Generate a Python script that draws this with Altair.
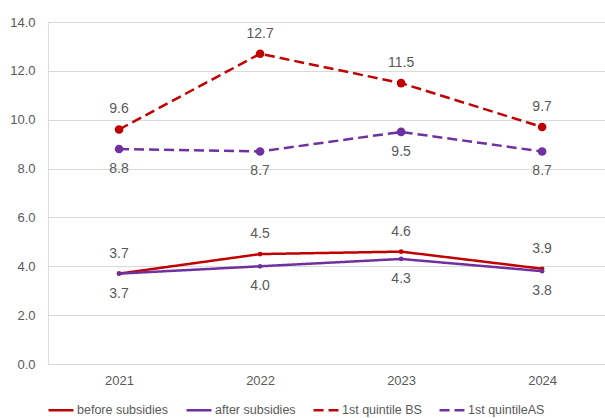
import altair as alt
import pandas as pd

years = [2021, 2022, 2023, 2024]
series_names = ["before subsidies", "after subsidies", "1st quintile BS", "1st quintileAS"]
before_subsidies = [3.7, 4.5, 4.6, 3.9]
after_subsidies = [3.7, 4.0, 4.3, 3.8]
quintile_bs = [9.6, 12.7, 11.5, 9.7]
quintile_as = [8.8, 8.7, 9.5, 8.7]
y_ticks = [0, 2, 4, 6, 8, 10, 12, 14]

colors = ["#C00000", "#7030A0", "#C00000", "#7030A0"]
dashes = [[1, 0], [1, 0], [10, 5], [10, 5]]
widths = [2.5, 2.5, 3, 3]
psizes = [22, 22, 75, 75]

rows = []
for name, vals in zip(series_names, [before_subsidies, after_subsidies, quintile_bs, quintile_as]):
    for y, v in zip(years, vals):
        rows.append({"year": y, "value": v, "series": name})
df = pd.DataFrame(rows)

FONT = "Liberation Sans"
GREY = "#595959"

x = alt.X("year:Q", scale=alt.Scale(domain=[2020.496, 2024.446], nice=False, zero=False),
          axis=alt.Axis(values=years, format="d", grid=False, domain=False, ticks=False,
                        labelPadding=10, labelFontSize=13, labelColor=GREY, labelFont=FONT,
                        title=None))
y = alt.Y("value:Q", scale=alt.Scale(domain=[0, 14], nice=False),
          axis=alt.Axis(values=y_ticks, format=".1f", domain=False, ticks=False,
                        labelPadding=13, labelFontSize=13, labelColor=GREY, labelFont=FONT,
                        gridColor="#d9d9d9", gridWidth=1.2, title=None))

legend = alt.Legend(title=None, orient="none", direction="horizontal",
                    legendX=-1, legendY=374, columns=4,
                    symbolType="stroke", symbolStrokeWidth=3, symbolSize=620,
                    labelFont=FONT, labelFontSize=12.5, labelColor=GREY,
                    columnPadding=12, symbolOffset=0, labelOffset=2)

color = alt.Color("series:N", sort=series_names,
                  scale=alt.Scale(domain=series_names, range=colors), legend=legend)
dash = alt.StrokeDash("series:N", sort=series_names,
                      scale=alt.Scale(domain=series_names, range=dashes), legend=legend)
sw = alt.StrokeWidth("series:N", sort=series_names,
                     scale=alt.Scale(domain=series_names, range=widths), legend=None)

lines = alt.Chart(df).mark_line().encode(x=x, y=y, color=color, strokeDash=dash, strokeWidth=sw)

layers = [lines]
for name, c, s in zip(series_names, colors, psizes):
    layers.append(
        alt.Chart(df).transform_filter(alt.datum.series == name)
        .mark_point(filled=True, opacity=1, color=c, size=s)
        .encode(x=x, y=y)
    )

above = alt.Chart(df).transform_filter(
    alt.FieldOneOfPredicate(field="series", oneOf=["before subsidies", "1st quintile BS"])
).mark_text(dy=-20, fontSize=14, font=FONT, color=GREY).encode(
    x=x, y=y, text=alt.Text("value:Q", format=".1f"))

below = alt.Chart(df).transform_filter(
    alt.FieldOneOfPredicate(field="series", oneOf=["after subsidies", "1st quintileAS"])
).mark_text(dy=20, fontSize=14, font=FONT, color=GREY).encode(
    x=x, y=y, text=alt.Text("value:Q", format=".1f"))

layers += [above, below]

chart = alt.layer(*layers).properties(
    width=557, height=342,
    autosize=alt.AutoSizeParams(type="none"),
    padding={"left": 48, "top": 22, "right": 0, "bottom": 54},
).configure_view(stroke=None).configure(background="white")

chart.save("out.html", embed_options={"renderer": "svg", "actions": False})
